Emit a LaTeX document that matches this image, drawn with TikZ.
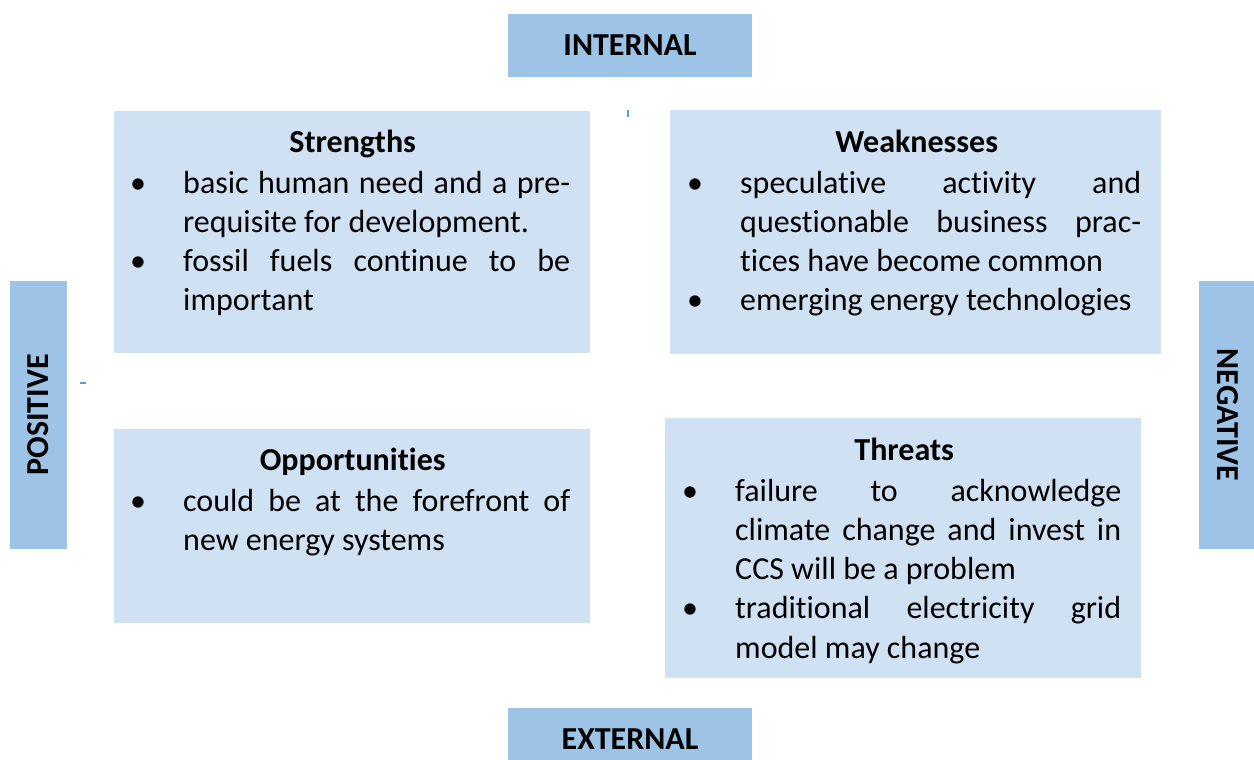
\documentclass[tikz,border=0pt]{standalone}
\usepackage{fontspec}
\setmainfont{Carlito}[Ligatures=NoCommon]
\usepackage{enumitem}
\definecolor{headblue}{RGB}{157,195,230}
\definecolor{boxblue}{RGB}{207,225,242}
\definecolor{tickblue}{RGB}{91,155,213}
\setlist[itemize]{nosep,leftmargin=53pt,labelsep=0pt,labelwidth=53pt,align=left}

\tikzset{
  headbox/.style={fill=headblue,inner sep=0pt,minimum width=244,minimum height=63,
    font=\bfseries\fontsize{32}{39}\selectfont},
  sidebox/.style={fill=headblue,inner sep=0pt,minimum width=268,minimum height=57,
    font=\bfseries\fontsize{32}{39}\selectfont},
  quadbox/.style={fill=boxblue,inner sep=0pt,anchor=north west},
  quadtext/.style={inner sep=0pt,anchor=north west,align=justify,
    font=\fontsize{32}{39.2}\selectfont},
  tick/.style={draw=tickblue,line width=1.5pt}
}
\newcommand{\quadtitle}[1]{{\centering\bfseries\hspace*{5pt}\strut #1\par}\vspace{1.8pt}}

\begin{document}
\begin{tikzpicture}[x=1pt,y=-1pt]
        \clip (0,0) rectangle (1254,760);
        \fill[white] (0,0) rectangle (1254,760);
        % headers
        \node[headbox] (int) at (630,45.5) {INTERNAL};
        \node[headbox] (ext) at (630,739.5) {EXTERNAL};
        \node[sidebox,rotate=90] (pos) at (38.5,415) {POSITIVE};
        \node[sidebox,rotate=-90] (neg) at (1227.5,415) {NEGATIVE};
        % quadrants
        \node[quadbox,minimum width=476,minimum height=242] (str) at (114,111) {};
        \node[quadbox,minimum width=491,minimum height=244] (wea) at (670,110) {};
        \node[quadbox,minimum width=476,minimum height=194] (opp) at (114,429) {};
        \node[quadbox,minimum width=476,minimum height=260] (thr) at (665,418) {};
        \node[quadtext,text width=440] (strtext) at (130,124.6) {%
            \quadtitle{Strengths}
            \begin{itemize}
                \item basic human need and a pre-\linebreak requisite for development.
                \item fossil fuels continue to be\linebreak important
            \end{itemize}};
        \node[quadtext,text width=454] (weatext) at (687,124.6) {%
            \quadtitle{Weaknesses}
            \begin{itemize}
                \item speculative activity and\linebreak questionable business prac-\linebreak tices have become common
                \item emerging energy technologies
            \end{itemize}};
        \node[quadtext,text width=440] (opptext) at (130,442.6) {%
            \quadtitle{Opportunities}
            \begin{itemize}
                \item could be at the forefront of\linebreak new energy systems
            \end{itemize}};
        \node[quadtext,text width=439] (thrtext) at (682,432.6) {%
            \quadtitle{Threats}
            \begin{itemize}
                \item failure to acknowledge\linebreak climate change and invest in\linebreak CCS will be a problem
                \item traditional electricity grid\linebreak model may change
            \end{itemize}};
        % stray marks
        \coordinate (ta) at (628,110);
        \coordinate (tb) at (628,117);
        \coordinate (tc) at (80,383);
        \coordinate (td) at (86,383);
        \draw[tick] (ta) -- (tb);
        \draw[tick] (tc) -- (td);
\end{tikzpicture}
\end{document}
